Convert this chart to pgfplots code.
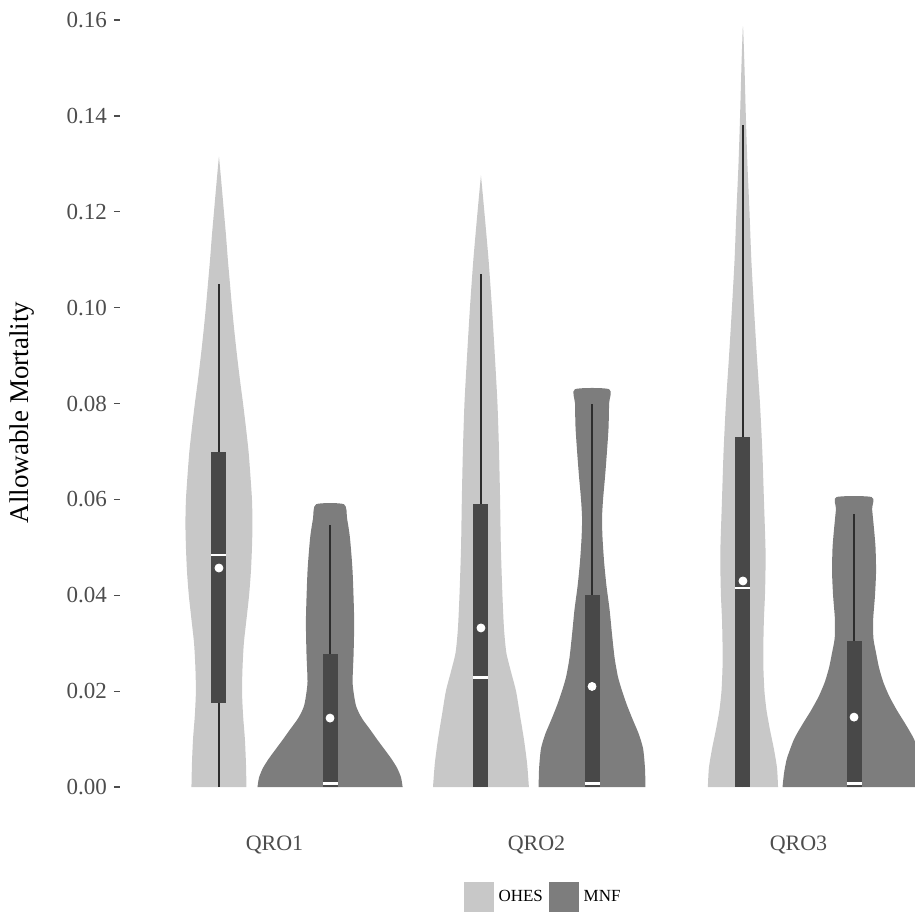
\documentclass[border=0pt]{standalone}
\usepackage{pgfplots}
\pgfplotsset{compat=1.18}
\usepackage{pgfplotstable}
\usepackage{fontspec}
\setmainfont{Liberation Serif}
\definecolor{ohes}{RGB}{200,200,200}
\definecolor{mnf}{RGB}{125,125,125}
\definecolor{boxc}{RGB}{72,72,72}
\definecolor{whisk}{RGB}{45,45,45}
\definecolor{tickc}{RGB}{77,77,77}

% violin outlines: y and signed offset dx from the violin centre (axis x units)
\pgfplotstableread{
y dx
0.000 -0.105
0.005 -0.103
0.010 -0.099
0.015 -0.092
0.020 -0.088
0.025 -0.090
0.030 -0.095
0.035 -0.105
0.040 -0.115
0.045 -0.122
0.050 -0.126
0.055 -0.128
0.060 -0.126
0.065 -0.120
0.070 -0.113
0.075 -0.103
0.080 -0.092
0.085 -0.080
0.090 -0.069
0.095 -0.059
0.100 -0.050
0.105 -0.042
0.110 -0.034
0.115 -0.027
0.120 -0.019
0.125 -0.011
0.131 -0.001
0.131 0.001
0.125 0.011
0.120 0.019
0.115 0.027
0.110 0.034
0.105 0.042
0.100 0.050
0.095 0.059
0.090 0.069
0.085 0.080
0.080 0.092
0.075 0.103
0.070 0.113
0.065 0.120
0.060 0.126
0.055 0.128
0.050 0.126
0.045 0.122
0.040 0.115
0.035 0.105
0.030 0.095
0.025 0.090
0.020 0.088
0.015 0.092
0.010 0.099
0.005 0.103
0.000 0.105
}\ohesA
\pgfplotstableread{
y dx
0.000 -0.277
0.002 -0.271
0.004 -0.256
0.006 -0.233
0.0083 -0.202
0.010 -0.179
0.012 -0.153
0.014 -0.126
0.0154 -0.111
0.017 -0.099
0.019 -0.092
0.022 -0.086
0.028 -0.090
0.035 -0.092
0.045 -0.086
0.052 -0.076
0.056 -0.065
0.059 -0.053
0.059 0.053
0.056 0.065
0.052 0.076
0.045 0.086
0.035 0.092
0.028 0.090
0.022 0.086
0.019 0.092
0.017 0.099
0.0154 0.111
0.014 0.126
0.012 0.153
0.010 0.179
0.0083 0.202
0.006 0.233
0.004 0.256
0.002 0.271
0.000 0.277
}\mnfA
\pgfplotstableread{
y dx
0.000 -0.183
0.005 -0.176
0.010 -0.164
0.015 -0.149
0.020 -0.134
0.024 -0.115
0.028 -0.097
0.033 -0.088
0.040 -0.082
0.050 -0.076
0.060 -0.073
0.070 -0.069
0.080 -0.063
0.090 -0.053
0.100 -0.042
0.110 -0.029
0.120 -0.013
0.127 -0.001
0.127 0.001
0.120 0.013
0.110 0.029
0.100 0.042
0.090 0.053
0.080 0.063
0.070 0.069
0.060 0.073
0.050 0.076
0.040 0.082
0.033 0.088
0.028 0.097
0.024 0.115
0.020 0.134
0.015 0.149
0.010 0.164
0.005 0.176
0.000 0.183
}\ohesB
\pgfplotstableread{
y dx
0.000 -0.204
0.004 -0.202
0.008 -0.195
0.011 -0.179
0.014 -0.156
0.017 -0.134
0.020 -0.115
0.023 -0.099
0.027 -0.086
0.032 -0.076
0.037 -0.067
0.042 -0.055
0.047 -0.046
0.052 -0.040
0.056 -0.038
0.060 -0.042
0.065 -0.050
0.070 -0.057
0.075 -0.063
0.080 -0.065
0.083 -0.065
0.083 0.065
0.080 0.065
0.075 0.063
0.070 0.057
0.065 0.050
0.060 0.042
0.056 0.038
0.052 0.040
0.047 0.046
0.042 0.055
0.037 0.067
0.032 0.076
0.027 0.086
0.023 0.099
0.020 0.115
0.017 0.134
0.014 0.156
0.011 0.179
0.008 0.195
0.004 0.202
0.000 0.204
}\mnfB
\pgfplotstableread{
y dx
0.000 -0.134
0.004 -0.130
0.008 -0.118
0.012 -0.103
0.016 -0.090
0.020 -0.082
0.025 -0.078
0.030 -0.078
0.035 -0.080
0.040 -0.084
0.045 -0.086
0.050 -0.086
0.060 -0.080
0.070 -0.074
0.080 -0.065
0.090 -0.053
0.100 -0.042
0.110 -0.032
0.120 -0.025
0.130 -0.017
0.140 -0.011
0.150 -0.006
0.158 -0.001
0.158 0.001
0.150 0.006
0.140 0.011
0.130 0.017
0.120 0.025
0.110 0.032
0.100 0.042
0.090 0.053
0.080 0.065
0.070 0.074
0.060 0.080
0.050 0.086
0.045 0.086
0.040 0.084
0.035 0.080
0.030 0.078
0.025 0.078
0.020 0.082
0.016 0.090
0.012 0.103
0.008 0.118
0.004 0.130
0.000 0.134
}\ohesC
\pgfplotstableread{
y dx
0.000 -0.273
0.003 -0.267
0.006 -0.256
0.010 -0.229
0.013 -0.198
0.016 -0.164
0.019 -0.134
0.022 -0.111
0.025 -0.095
0.028 -0.084
0.031 -0.074
0.035 -0.073
0.040 -0.080
0.045 -0.084
0.050 -0.082
0.054 -0.076
0.058 -0.069
0.0605 -0.067
0.0605 0.067
0.058 0.069
0.054 0.076
0.050 0.082
0.045 0.084
0.040 0.080
0.035 0.073
0.031 0.074
0.028 0.084
0.025 0.095
0.022 0.111
0.019 0.134
0.016 0.164
0.013 0.198
0.010 0.229
0.006 0.256
0.003 0.267
0.000 0.273
}\mnfC

% #1 position, #2 colour, #3 table
\newcommand{\violin}[3]{%
  \addplot[fill=#2, draw=none, forget plot, smooth, tension=0.4] table[x expr={#1+\thisrow{dx}}, y=y] {#3};
}
% #1 pos, #2 lower whisker, #3 q1, #4 median, #5 q3, #6 upper whisker
\newcommand{\vbx}[6]{%
  \addplot[forget plot, draw=whisk, line width=0.75pt] coordinates {(#1,#2) (#1,#6)};
  \addplot[forget plot, fill=boxc, draw=none]
    coordinates {(#1-0.0285,#3) (#1+0.0285,#3) (#1+0.0285,#5) (#1-0.0285,#5)};
  \addplot[forget plot, draw=white, line width=1.3pt] coordinates {(#1-0.0285,#4) (#1+0.0285,#4)};
}

\begin{document}
\begin{tikzpicture}
\useasboundingbox (-60pt,-43pt) rectangle (397.5pt,412.5pt);
\begin{axis}[
  at={(0,0)}, anchor=south west,
  scale only axis, width=397.5pt, height=412.5pt,
  xmin=0.4103, xmax=3.4447, ymin=-0.0079, ymax=0.16417,
  axis x line*=bottom, axis y line*=left,
  axis line style={draw=none},
  tick align=outside,
  xtick={1,2,3}, xticklabels={QRO1,QRO2,QRO3},
  xtick style={draw=none},
  ytick={0,0.02,0.04,0.06,0.08,0.10,0.12,0.14,0.16},
  ytick style={draw=tickc, line width=0.7pt},
  major tick length=3pt,
  /pgf/number format/assume math mode=true,
  yticklabel style={/pgf/number format/.cd, fixed, fixed zerofill, precision=2,
     /tikz/.cd, font=\fontsize{11.5}{13}\selectfont, text=tickc},
  xticklabel style={font=\fontsize{11}{12}\selectfont, text=tickc, yshift=1.25pt},
  ylabel={Allowable Mortality},
  ylabel style={at={(axis description cs:-0.1233,0.5)}, anchor=center,
     font=\fontsize{13.5}{15}\selectfont},
  legend style={at={(axis description cs:0.531,-0.0873)}, anchor=center,
     draw=none, fill=none, legend columns=-1, inner sep=0pt,
     nodes={inner sep=0pt},
     font=\fontsize{8.5}{9.5}\selectfont,
     /tikz/every odd column/.append style={column sep=2.5pt},
     /tikz/every even column/.append style={column sep=3pt}},
]
\addlegendimage{legend image code/.code={\fill[ohes] (0pt,-7.25pt) rectangle (14.5pt,7.25pt);}}
\addlegendentry{OHES}
\addlegendimage{legend image code/.code={\fill[mnf] (0pt,-7.25pt) rectangle (14.5pt,7.25pt);}}
\addlegendentry{MNF}

\violin{0.788}{ohes}{\ohesA}
\violin{1.212}{mnf}{\mnfA}
\violin{1.788}{ohes}{\ohesB}
\violin{2.212}{mnf}{\mnfB}
\violin{2.788}{ohes}{\ohesC}
\violin{3.212}{mnf}{\mnfC}

\vbx{0.788}{0}{0.0176}{0.0484}{0.0699}{0.105}
\vbx{1.212}{0}{0}{0.0008}{0.0277}{0.0546}
\vbx{1.788}{0}{0}{0.0229}{0.059}{0.107}
\vbx{2.212}{0}{0}{0.0008}{0.040}{0.080}
\vbx{2.788}{0}{0}{0.0415}{0.073}{0.138}
\vbx{3.212}{0}{0}{0.0008}{0.0305}{0.057}

\addplot[only marks, forget plot, mark=*, mark size=2pt, mark options={fill=white, draw=white}]
  coordinates {(0.788,0.0457) (1.212,0.0144) (1.788,0.0332) (2.212,0.021) (2.788,0.043) (3.212,0.0146)};
\end{axis}
\end{tikzpicture}
\end{document}
